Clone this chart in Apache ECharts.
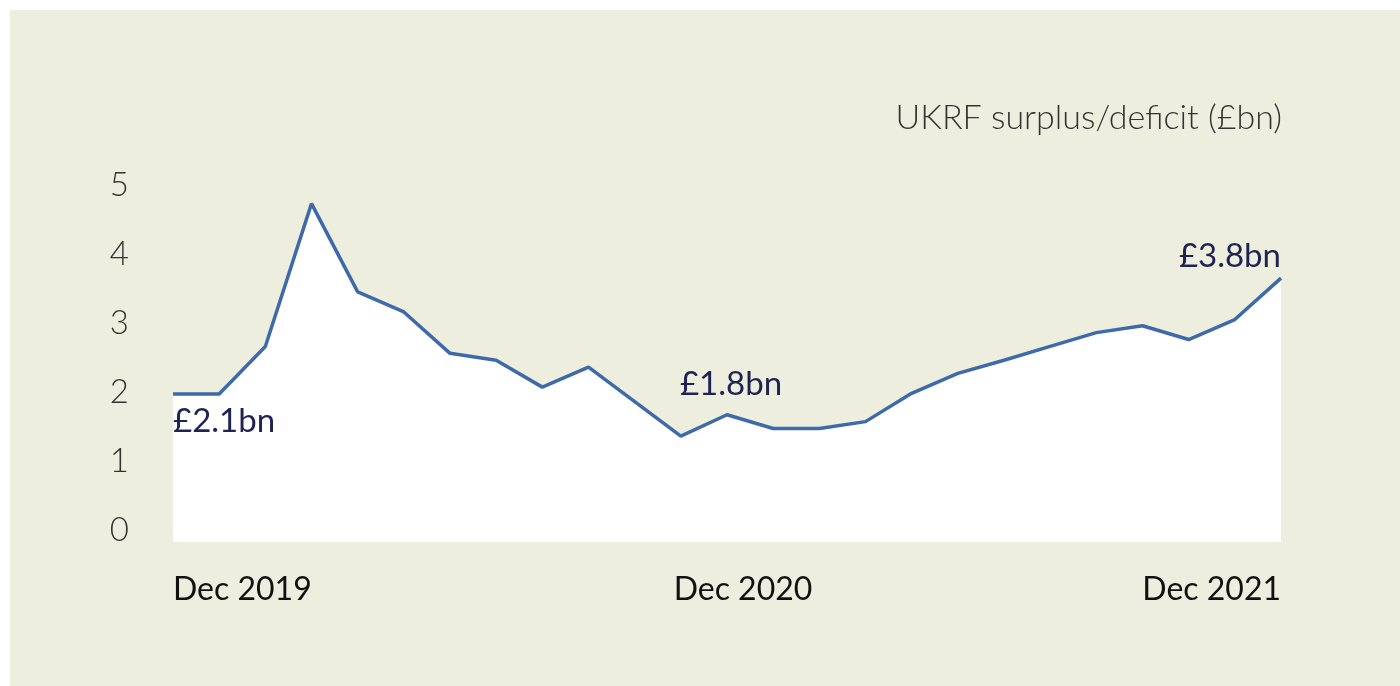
<!DOCTYPE html>
<html>
<head>
<meta charset="utf-8">
<script src="https://cdn.jsdelivr.net/npm/echarts@6/dist/echarts.min.js"></script>
<style>
    body { margin: 0; background: #fff; }
    #panel { position: absolute; left: 10px; top: 10px; width: 1390px; height: 676px; background: #eeeedf; }
    #chart { position: absolute; left: 0; top: 0; width: 1400px; height: 686px; }
</style>
</head>
<body>
<div id="panel"></div>
<div id="chart"></div>
<script>
// monthly points, Dec 2019 .. Dec 2021
const months = [
    'Dec 2019', 'Jan 2020', 'Feb 2020', 'Mar 2020', 'Apr 2020', 'May 2020', 'Jun 2020',
    'Jul 2020', 'Aug 2020', 'Sep 2020', 'Oct 2020', 'Nov 2020', 'Dec 2020',
    'Jan 2021', 'Feb 2021', 'Mar 2021', 'Apr 2021', 'May 2021', 'Jun 2021',
    'Jul 2021', 'Aug 2021', 'Sep 2021', 'Oct 2021', 'Nov 2021', 'Dec 2021'
]
const surplus = [
    1.97, 1.97, 2.66, 4.73, 3.45, 3.16, 2.56, 2.46, 2.07, 2.36, 1.86, 1.36, 1.67,
    1.47, 1.47, 1.57, 1.98, 2.27, 2.46, 2.66, 2.86, 2.96, 2.76, 3.05, 3.65
]
const tickLabels = ['Dec 2019', 'Dec 2020', 'Dec 2021']
const yTicks = [0, 1, 2, 3, 4, 5]
const callouts = [
    { month: 'Dec 2019', text: '£2.1bn' },
    { month: 'Dec 2020', text: '£1.8bn' },
    { month: 'Dec 2021', text: '£3.8bn' }
]
const unitTitle = 'UKRF surplus/deficit (£bn)'

const font = 'Lato, "Open Sans", sans-serif'
const calloutStyle = [
    { align: 'left', offset: [0, 27] },
    { align: 'center', offset: [4, -30] },
    { align: 'right', offset: [0, -22] }
]

const chart = echarts.init(document.getElementById('chart'))

chart.setOption({
    animation: false,
    grid: { left: 173, right: 119, top: 185, bottom: 144 },
    graphic: [{
        type: 'text',
        x: 1282,
        y: 118,
        style: {
            text: unitTitle,
            align: 'right',
            verticalAlign: 'middle',
            font: '300 34px ' + font,
            fill: '#333'
        }
    }],
    xAxis: {
        type: 'category',
        data: months,
        boundaryGap: false,
        axisLine: { show: false },
        axisTick: { show: false },
        axisLabel: {
            interval: (i, v) => tickLabels.includes(v),
            margin: 32,
            alignMinLabel: 'left',
            alignMaxLabel: 'right',
            color: '#111',
            fontFamily: font,
            fontSize: 32,
            formatter: v => v === tickLabels[1] ? '{mid|' + v + '}' : v,
            rich: {
                mid: { fontFamily: font, fontSize: 32, color: '#111', padding: [0, 0, 0, 32] }
            }
        }
    },
    yAxis: {
        type: 'value',
        min: -0.175,
        max: 5,
        splitLine: { show: false },
        axisLine: { show: false },
        axisTick: { show: false },
        axisLabel: {
            customValues: yTicks,
            margin: 44,
            color: '#333',
            fontFamily: font,
            fontWeight: 300,
            fontSize: 33
        }
    },
    series: [{
        type: 'line',
        data: surplus,
        symbol: 'none',
        lineStyle: { color: '#3e6aac', width: 3.5 },
        areaStyle: { color: '#ffffff', opacity: 1, origin: 'start' },
        markPoint: {
            symbol: 'circle',
            symbolSize: 0,
            data: callouts.map((c, i) => {
                const idx = months.indexOf(c.month)
                return {
                    coord: [idx, surplus[idx]],
                    label: {
                        show: true,
                        position: 'inside',
                        formatter: c.text,
                        align: calloutStyle[i].align,
                        offset: calloutStyle[i].offset,
                        color: '#1e2452',
                        fontFamily: font,
                        fontSize: 33
                    }
                }
            })
        }
    }]
})
</script>
</body>
</html>
